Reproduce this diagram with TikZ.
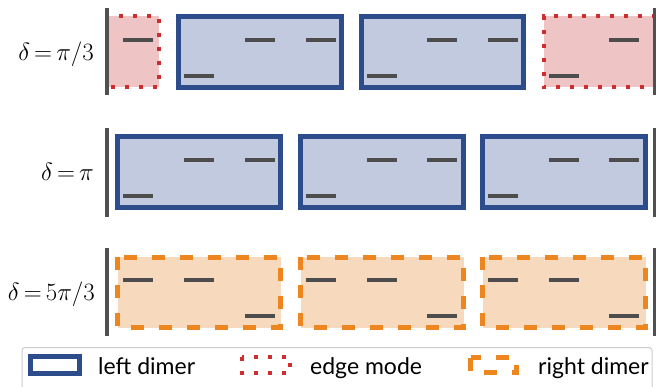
\documentclass[tikz,border=0pt]{standalone}
\usepackage{fontspec}
\setsansfont{Lato}
\definecolor{ldedge}{RGB}{44,76,140}
\definecolor{ldfill}{RGB}{194,202,223}
\definecolor{emedge}{RGB}{208,46,46}
\definecolor{emfill}{RGB}{239,196,196}
\definecolor{rdedge}{RGB}{238,134,32}
\definecolor{rdfill}{RGB}{247,217,189}
\definecolor{barcol}{RGB}{77,77,77}
\definecolor{wallcol}{RGB}{80,80,80}
\tikzset{
  leftdimer/.style={draw=ldedge, fill=ldfill, line width=5pt},
  edgemode/.style={draw=emedge, fill=emfill, line width=4pt, dash pattern=on 4pt off 10pt},
  rightdimer/.style={draw=rdedge, fill=rdfill, line width=5pt, dash pattern=on 13pt off 15pt},
  sitebar/.style={draw=barcol, line width=4pt},
  wallline/.style={draw=wallcol, line width=4pt},
  rowlabel/.style={anchor=base east, inner sep=0pt, font=\fontsize{24}{28}\selectfont},
  legtext/.style={anchor=base west, inner sep=0pt, font=\sffamily\fontsize{23}{27}\selectfont},
}
\newcommand{\topbar}[2]{\draw[sitebar] (#1-15,#2-12) -- (#1+15,#2-12);}
\newcommand{\botbar}[2]{\draw[sitebar] (#1-15,#2+24) -- (#1+15,#2+24);}
\begin{document}
\begin{tikzpicture}[x=1pt,y=-1pt]
\thickmuskip=3mu
\useasboundingbox (0,0) rectangle (656,386);
% ---------- row 1 : delta = pi/3 (centre y = 52)
\fill[emfill] (105,16) rectangle (158.5,87);
\draw[edgemode] (105,16) -- (158.5,16) -- (158.5,87) -- (105,87);
\fill[emfill] (543.5,16) rectangle (656,87);
\draw[edgemode] (656,16) -- (543.5,16) -- (543.5,87) -- (656,87);
\draw[leftdimer] (178.5,16) rectangle (341.5,87);
\draw[leftdimer] (361.5,16) rectangle (523.5,87);
\topbar{138}{52}
\botbar{199}{52}\topbar{260}{52}\topbar{321}{52}
\botbar{382}{52}\topbar{442}{52}\topbar{503}{52}
\botbar{564}{52}\topbar{624}{52}
\coordinate (w1a) at (107,8); \coordinate (w1b) at (107,95);
\coordinate (w1c) at (654.5,8); \coordinate (w1d) at (654.5,95);
\draw[wallline] (w1a) -- (w1b);
\draw[wallline] (w1c) -- (w1d);
\node[rowlabel] (l1) at (94,60) {$\delta=\pi/3$};
% ---------- row 2 : delta = pi (centre y = 172)
\draw[leftdimer] (117.5,136.5) rectangle (280.5,207.5);
\draw[leftdimer] (300.5,136.5) rectangle (463.5,207.5);
\draw[leftdimer] (482.5,136.5) rectangle (645.5,207.5);
\botbar{138}{172}\topbar{199}{172}\topbar{260}{172}
\botbar{321}{172}\topbar{382}{172}\topbar{442}{172}
\botbar{503}{172}\topbar{564}{172}\topbar{624}{172}
\coordinate (w2a) at (107,128); \coordinate (w2b) at (107,217);
\coordinate (w2c) at (654.5,128); \coordinate (w2d) at (654.5,217);
\draw[wallline] (w2a) -- (w2b);
\draw[wallline] (w2c) -- (w2d);
\node[rowlabel] (l2) at (94,180) {$\delta=\pi$};
% ---------- row 3 : delta = 5pi/3 (centre y = 292)
\draw[rightdimer] (117.5,257) rectangle (280.5,327.5);
\draw[rightdimer] (300.5,257) rectangle (463.5,327.5);
\draw[rightdimer] (482.5,257) rectangle (645.5,327.5);
\topbar{138}{292}\topbar{199}{292}\botbar{260}{292}
\topbar{321}{292}\topbar{382}{292}\botbar{442}{292}
\topbar{503}{292}\topbar{564}{292}\botbar{624}{292}
\coordinate (w3a) at (107,248); \coordinate (w3b) at (107,336);
\coordinate (w3c) at (654.5,248); \coordinate (w3d) at (654.5,336);
\draw[wallline] (w3a) -- (w3b);
\draw[wallline] (w3c) -- (w3d);
\node[rowlabel] (l3) at (95,300) {$\delta=5\pi/3$};
% ---------- legend
\draw[draw=black!20, fill=white, line width=1pt, rounded corners=3pt] (22,347.5) rectangle (652,400);
\draw[leftdimer, fill=white] (30.5,356.5) rectangle (79.5,373.5);
\draw[edgemode, fill=white] (242,357) rectangle (290,373);
\draw[rightdimer, fill=white] (470.5,357.5) rectangle (516.5,372.5);
\node[legtext] (t1) at (98,374) {left dimer};
\node[legtext] (t2) at (310,374) {edge mode};
\node[legtext] (t3) at (538,374) {right dimer};
\end{tikzpicture}
\end{document}
